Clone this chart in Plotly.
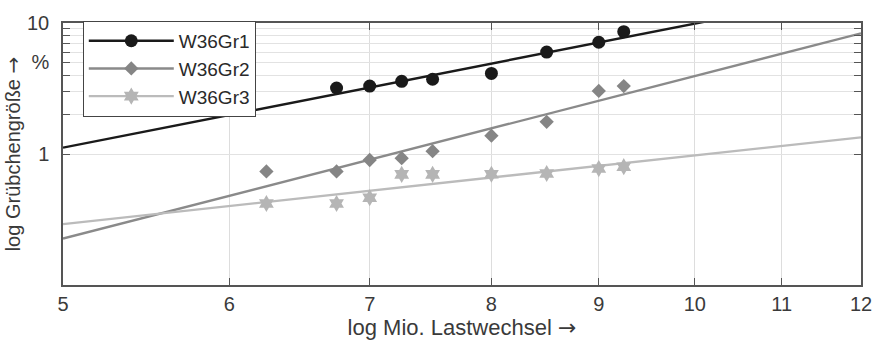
import numpy as np
import plotly.graph_objects as go

# Data (Mio. Lastwechsel, Grübchengröße in %)
x_gr1 = [6.75, 7.0, 7.25, 7.5, 8.0, 8.5, 9.0, 9.25]
y_gr1 = [3.19, 3.30, 3.59, 3.72, 4.12, 6.00, 7.13, 8.58]

x_gr2 = [6.25, 6.75, 7.0, 7.25, 7.5, 8.0, 8.5, 9.0, 9.25]
y_gr2 = [0.736, 0.736, 0.90, 0.93, 1.05, 1.38, 1.76, 3.03, 3.30]

x_gr3 = [6.25, 6.75, 7.0, 7.25, 7.5, 8.0, 8.5, 9.0, 9.25]
y_gr3 = [0.419, 0.419, 0.464, 0.699, 0.699, 0.70, 0.71, 0.774, 0.80]

series_names = ["W36Gr1", "W36Gr2", "W36Gr3"]
line_colors = ["#1a1a1a", "#8a8a8a", "#bbbbbb"]
marker_colors = ["#1a1a1a", "#858585", "#b5b5b5"]
marker_symbols = ["circle", "diamond", "hexagram"]
marker_sizes = [13, 11, 13]

x_ticks = [5, 6, 7, 8, 9, 10, 11, 12]
y_ticks = [1, 2, 3, 4, 5, 6, 7, 8, 9, 10]
y_ticktext = ["1", "", "", "", "%", "", "", "", "", "10"]

fit_x = np.array([5.0, 12.0])

fig = go.Figure()
for name, xs, ys, lc, mc, ms, sz in zip(
        series_names, [x_gr1, x_gr2, x_gr3], [y_gr1, y_gr2, y_gr3],
        line_colors, marker_colors, marker_symbols, marker_sizes):
    k, d = np.polyfit(np.log10(xs), np.log10(ys), 1)
    fy = 10 ** (k * np.log10(fit_x) + d)
    # least-squares fit line in log-log space
    fig.add_trace(go.Scatter(x=fit_x, y=fy, mode="lines",
                             line=dict(color=lc, width=2.4),
                             showlegend=False, hoverinfo="skip"))
    # measured points
    fig.add_trace(go.Scatter(x=xs, y=ys, mode="markers", name=name,
                             marker=dict(symbol=ms, size=sz, color=mc,
                                         line=dict(width=0)),
                             showlegend=False))
    # legend entry (line + marker)
    fig.add_trace(go.Scatter(x=[None], y=[None], mode="lines+markers", name=name,
                             line=dict(color=lc, width=2.4),
                             marker=dict(symbol=ms, size=sz, color=mc,
                                         line=dict(width=0))))

font_fam = "Liberation Sans, Arial, sans-serif"
arrow = "<span style='font-family:DejaVu Sans'>\u2192</span>"
fig.update_layout(
    width=884, height=345,
    margin=dict(l=61, r=18, t=17, b=56),
    paper_bgcolor="white", plot_bgcolor="white",
    font=dict(family=font_fam, size=20, color="#3a3a3a"),
    showlegend=True,
    legend=dict(x=0.0248, y=1.008, xanchor="left", yanchor="top",
                bgcolor="white", bordercolor="#444444", borderwidth=1,
                font=dict(size=19, color="#2a2a2a"), itemwidth=85,
                tracegroupgap=0),
)
fig.update_xaxes(
    type="log", range=[np.log10(5), np.log10(12)],
    tickvals=x_ticks, ticktext=[str(v) for v in x_ticks],
    ticks="inside", ticklen=7, tickcolor="#555555", tickwidth=1.2,
    showgrid=True, gridcolor="#dddddd", gridwidth=1,
    showline=True, linecolor="#555555", linewidth=1.5, mirror="ticks",
    zeroline=False,
    title=dict(text="log Mio. Lastwechsel " + arrow, font=dict(size=22), standoff=3),
    tickfont=dict(size=20),
)
fig.update_yaxes(
    type="log", range=[-1, 1],
    tickvals=y_ticks, ticktext=y_ticktext,
    ticks="inside", ticklen=7, tickcolor="#555555", tickwidth=1.2,
    showgrid=True, gridcolor="#e2e2e2", gridwidth=1,
    showline=True, linecolor="#555555", linewidth=1.5, mirror="ticks",
    zeroline=False, ticklabelstandoff=8,
    title=dict(text="log Grübchengröße " + arrow, font=dict(size=20), standoff=1),
    tickfont=dict(size=20),
)

fig.write_html("out.html")
